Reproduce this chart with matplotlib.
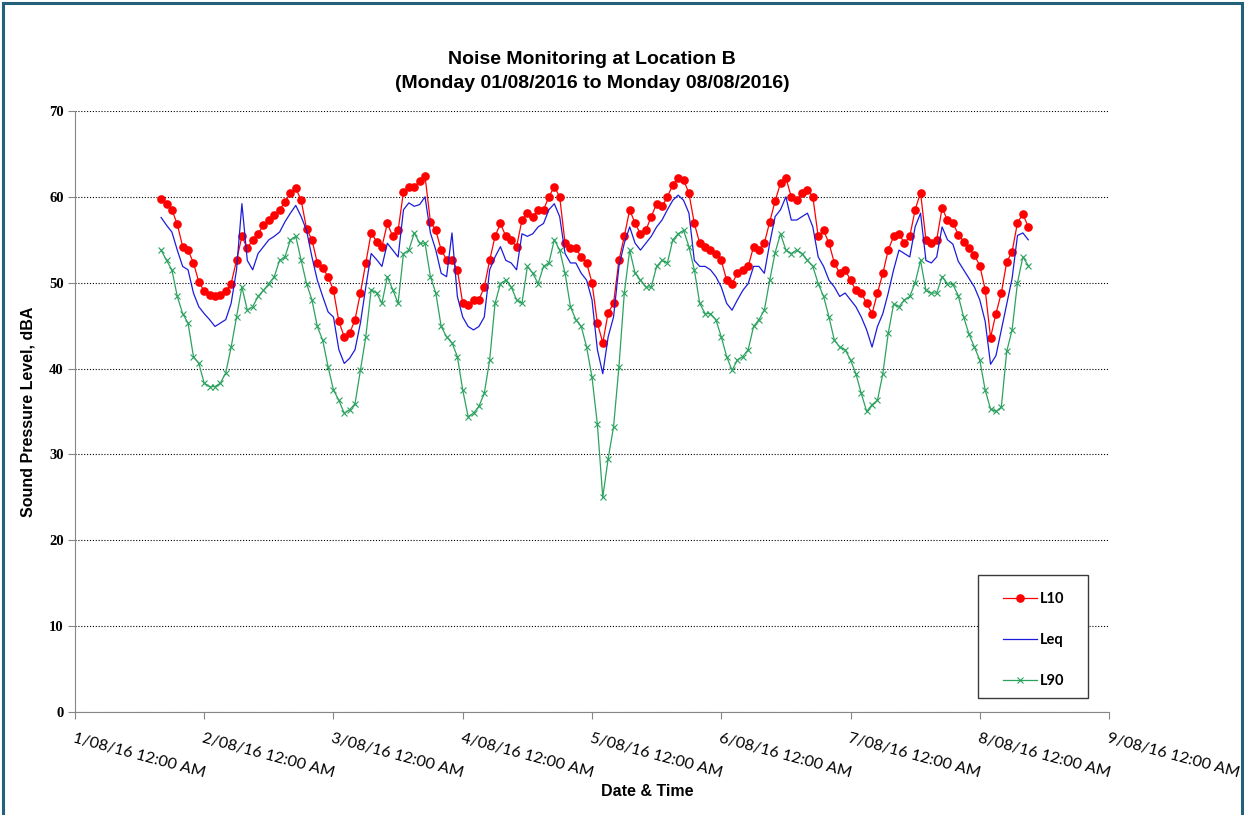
import matplotlib
matplotlib.use('Agg')

import pandas as pd
import matplotlib.pyplot as plt
from matplotlib.patches import Rectangle

# ==========================================
# DATA (hourly readings, first one at 1/08/2016 16:00)
# ==========================================

START = "2016-08-01 16:00"

l10 = [
    59.7, 59.2, 58.5, 56.8, 54.2, 53.8, 52.3, 50.1, 49.0, 48.6,
    48.4, 48.6, 49.0, 49.9, 52.6, 55.4, 54.0, 55.0, 55.7, 56.7,
    57.3, 57.9, 58.5, 59.4, 60.4, 61.0, 59.6, 56.3, 55.0, 52.3,
    51.7, 50.7, 49.1, 45.5, 43.7, 44.1, 45.7, 48.8, 52.3, 55.8,
    54.8, 54.2, 56.9, 55.4, 56.1, 60.6, 61.2, 61.2, 61.8, 62.4,
    57.1, 56.1, 53.8, 52.7, 52.7, 51.5, 47.6, 47.4, 48.0, 48.0,
    49.5, 52.6, 55.4, 56.9, 55.4, 55.0, 54.2, 57.3, 58.1, 57.7,
    58.5, 58.5, 60.0, 61.2, 60.0, 54.6, 54.0, 54.0, 53.0, 52.3,
    50.0, 45.3, 43.0, 46.5, 47.6, 52.6, 55.4, 58.5, 56.9, 55.7,
    56.1, 57.7, 59.2, 58.9, 60.0, 61.4, 62.2, 62.0, 60.4, 56.9,
    54.6, 54.2, 53.8, 53.4, 52.6, 50.3, 49.9, 51.1, 51.5, 51.9,
    54.2, 53.8, 54.6, 57.1, 59.5, 61.6, 62.2, 60.0, 59.6, 60.4,
    60.8, 60.0, 55.4, 56.1, 54.6, 52.3, 51.1, 51.5, 50.3, 49.1,
    48.8, 47.6, 46.4, 48.8, 51.1, 53.8, 55.4, 55.7, 54.6, 55.4,
    58.5, 60.5, 55.0, 54.6, 55.0, 58.7, 57.3, 57.0, 55.6, 54.8,
    54.0, 53.2, 52.0, 49.2, 43.6, 46.4, 48.8, 52.4, 53.6, 57.0,
    58.0, 56.5,
]

leq = [
    57.6, 56.7, 55.9, 53.8, 51.9, 51.5, 48.8, 47.2, 46.4, 45.7,
    44.9, 45.3, 45.7, 47.6, 51.5, 59.2, 52.6, 51.5, 53.4, 54.2,
    55.0, 55.4, 55.9, 57.1, 58.1, 59.0, 57.7, 56.1, 53.0, 50.3,
    48.4, 46.6, 46.0, 42.2, 40.6, 41.2, 42.2, 45.3, 49.5, 53.4,
    52.7, 51.9, 54.6, 53.8, 53.0, 58.5, 59.3, 58.9, 59.1, 60.0,
    55.8, 53.8, 51.1, 50.7, 55.8, 48.4, 46.0, 44.9, 44.5, 44.9,
    46.0, 51.5, 53.0, 54.2, 52.6, 52.3, 51.5, 55.7, 55.4, 55.7,
    56.5, 56.9, 58.5, 59.2, 57.7, 53.4, 52.3, 52.3, 51.1, 50.3,
    48.0, 42.2, 39.4, 43.7, 46.0, 51.9, 54.6, 56.5, 54.6, 53.8,
    54.6, 55.4, 56.5, 57.3, 58.5, 59.6, 60.2, 59.6, 58.1, 52.6,
    51.9, 51.9, 51.5, 50.7, 49.5, 47.6, 46.8, 48.0, 49.1, 49.9,
    51.9, 51.9, 51.1, 54.6, 57.7, 58.5, 60.0, 57.3, 57.3, 57.7,
    58.1, 56.5, 53.0, 51.9, 50.3, 49.5, 48.4, 48.8, 48.0, 47.2,
    46.0, 44.5, 42.5, 44.9, 46.4, 48.8, 51.5, 53.8, 53.4, 53.0,
    56.5, 58.1, 52.6, 52.3, 53.0, 56.5, 55.0, 54.5, 52.5, 51.5,
    50.5, 49.5, 48.0, 45.5, 40.5, 41.5, 44.5, 47.5, 50.5, 55.5,
    55.8, 55.0,
]

l90 = [
    53.8, 52.6, 51.5, 48.4, 46.4, 45.3, 41.4, 40.6, 38.3, 37.9,
    37.9, 38.3, 39.5, 42.5, 46.0, 49.5, 46.8, 47.2, 48.4, 49.1,
    49.9, 50.7, 52.6, 53.0, 55.0, 55.4, 52.6, 49.9, 48.0, 44.9,
    43.3, 40.2, 37.5, 36.3, 34.8, 35.2, 35.9, 39.8, 43.7, 49.2,
    48.8, 47.6, 50.7, 49.2, 47.6, 53.4, 53.8, 55.8, 54.6, 54.6,
    50.7, 48.8, 44.9, 43.7, 43.0, 41.4, 37.5, 34.4, 34.8, 35.6,
    37.1, 41.0, 47.6, 49.9, 50.3, 49.5, 48.0, 47.6, 51.9, 51.1,
    49.9, 51.9, 52.3, 55.0, 53.8, 51.1, 47.2, 45.7, 44.9, 42.5,
    39.0, 33.5, 25.0, 29.5, 33.2, 40.2, 48.8, 53.8, 51.1, 50.3,
    49.5, 49.5, 51.9, 52.6, 52.3, 55.0, 55.7, 56.1, 54.2, 51.5,
    47.6, 46.4, 46.4, 45.7, 43.7, 41.4, 39.8, 41.0, 41.4, 42.2,
    44.9, 45.7, 46.8, 50.3, 53.5, 55.7, 53.8, 53.4, 53.8, 53.4,
    52.6, 51.9, 49.9, 48.4, 46.0, 43.3, 42.5, 42.2, 41.0, 39.4,
    37.1, 35.0, 35.8, 36.3, 39.4, 44.1, 47.5, 47.2, 48.0, 48.4,
    50.0, 52.6, 49.1, 48.8, 48.8, 50.7, 49.9, 49.8, 48.5, 46.0,
    44.0, 42.5, 41.0, 37.5, 35.3, 35.0, 35.5, 42.0, 44.5, 50.0,
    53.0, 52.0,
]

day_ticks = pd.date_range("2016-08-01", "2016-08-09", freq="D")
tick_labels = [
    "1/08/16 12:00 AM", "2/08/16 12:00 AM", "3/08/16 12:00 AM",
    "4/08/16 12:00 AM", "5/08/16 12:00 AM", "6/08/16 12:00 AM",
    "7/08/16 12:00 AM", "8/08/16 12:00 AM", "9/08/16 12:00 AM",
]

times = pd.date_range(START, periods=len(l10), freq="h")

AXIS_GREY = "#868686"

# ==========================================
# FIGURE
# ==========================================

fig = plt.figure(figsize=(12.45, 8.15), dpi=100)

# teal frame round the chart area
fig.patches.append(
    Rectangle((0.0025, -0.02), 0.995, 1.0165,
              transform=fig.transFigure, fill=False,
              edgecolor="#23607a", linewidth=2.2)
)

ax = fig.add_axes([0.0602, 0.1264, 0.8306, 0.7374])

ax.plot(times, l10, color="#ff0000", linewidth=0.9,
        marker="o", markersize=5.2, markerfacecolor="#ff0000",
        markeredgecolor="#ff0000", label="L10")

ax.plot(times, leq, color="#1c1cdc", linewidth=0.9, label="Leq")

ax.plot(times, l90, color="#2ca25f", linewidth=0.9,
        marker="x", markersize=3.8, markeredgewidth=0.8, label="L90")

# ==========================================
# AXES
# ==========================================

ax.set_ylim(0, 70)
ax.set_yticks(range(0, 71, 10))
ax.set_xlim(day_ticks[0], day_ticks[-1])
ax.set_xticks(day_ticks)
ax.set_xticklabels(tick_labels, rotation=-15, ha="left", va="top",
                   rotation_mode="anchor", family="Lato", fontsize=11.5)

for lab in ax.get_yticklabels():
    lab.set_family("Liberation Serif")
    lab.set_fontweight("bold")
    lab.set_fontsize(10.5)

ax.yaxis.grid(True, linestyle=(0, (1, 1.6)), color="black", linewidth=0.8)
ax.set_axisbelow(True)

for side in ["top", "right"]:
    ax.spines[side].set_visible(False)
for side in ["left", "bottom"]:
    ax.spines[side].set_color(AXIS_GREY)

ax.tick_params(axis="both", direction="out", length=5, color=AXIS_GREY)
ax.tick_params(axis="x", pad=9)
ax.tick_params(axis="y", pad=3)

# ==========================================
# TEXT
# ==========================================

fig.text(592 / 1245, 1 - 60 / 815, "Noise Monitoring at Location B",
         ha="center", va="center", family="Liberation Sans",
         fontweight="bold", fontsize=14)
fig.text(592 / 1245, 1 - 84 / 815, "(Monday 01/08/2016 to Monday 08/08/2016)",
         ha="center", va="center", family="Liberation Sans",
         fontweight="bold", fontsize=14)

fig.text(28 / 1245, 1 - 412 / 815, "Sound Pressure Level, dBA",
         ha="center", va="center", rotation=90, family="Liberation Sans",
         fontweight="bold", fontsize=11.5)

fig.text(647 / 1245, 1 - 792 / 815, "Date & Time",
         ha="center", va="center", family="Liberation Sans",
         fontweight="bold", fontsize=11.5)

# ==========================================
# LEGEND
# ==========================================

ax.add_patch(
    Rectangle((0.8733, 0.0233), 0.1064, 0.2047, transform=ax.transAxes,
              facecolor="white", edgecolor="#3a3a3a", linewidth=1.0,
              zorder=5)
)

leg = ax.legend(loc="upper left", bbox_to_anchor=(0.8975, 0.2000),
                frameon=False, borderpad=0, borderaxespad=0,
                handlelength=2.3, handletextpad=0.25, labelspacing=1.87,
                prop={"family": "Lato", "weight": "bold", "size": 10.5})
leg.set_zorder(6)

fig.savefig("out.png", dpi=100)
